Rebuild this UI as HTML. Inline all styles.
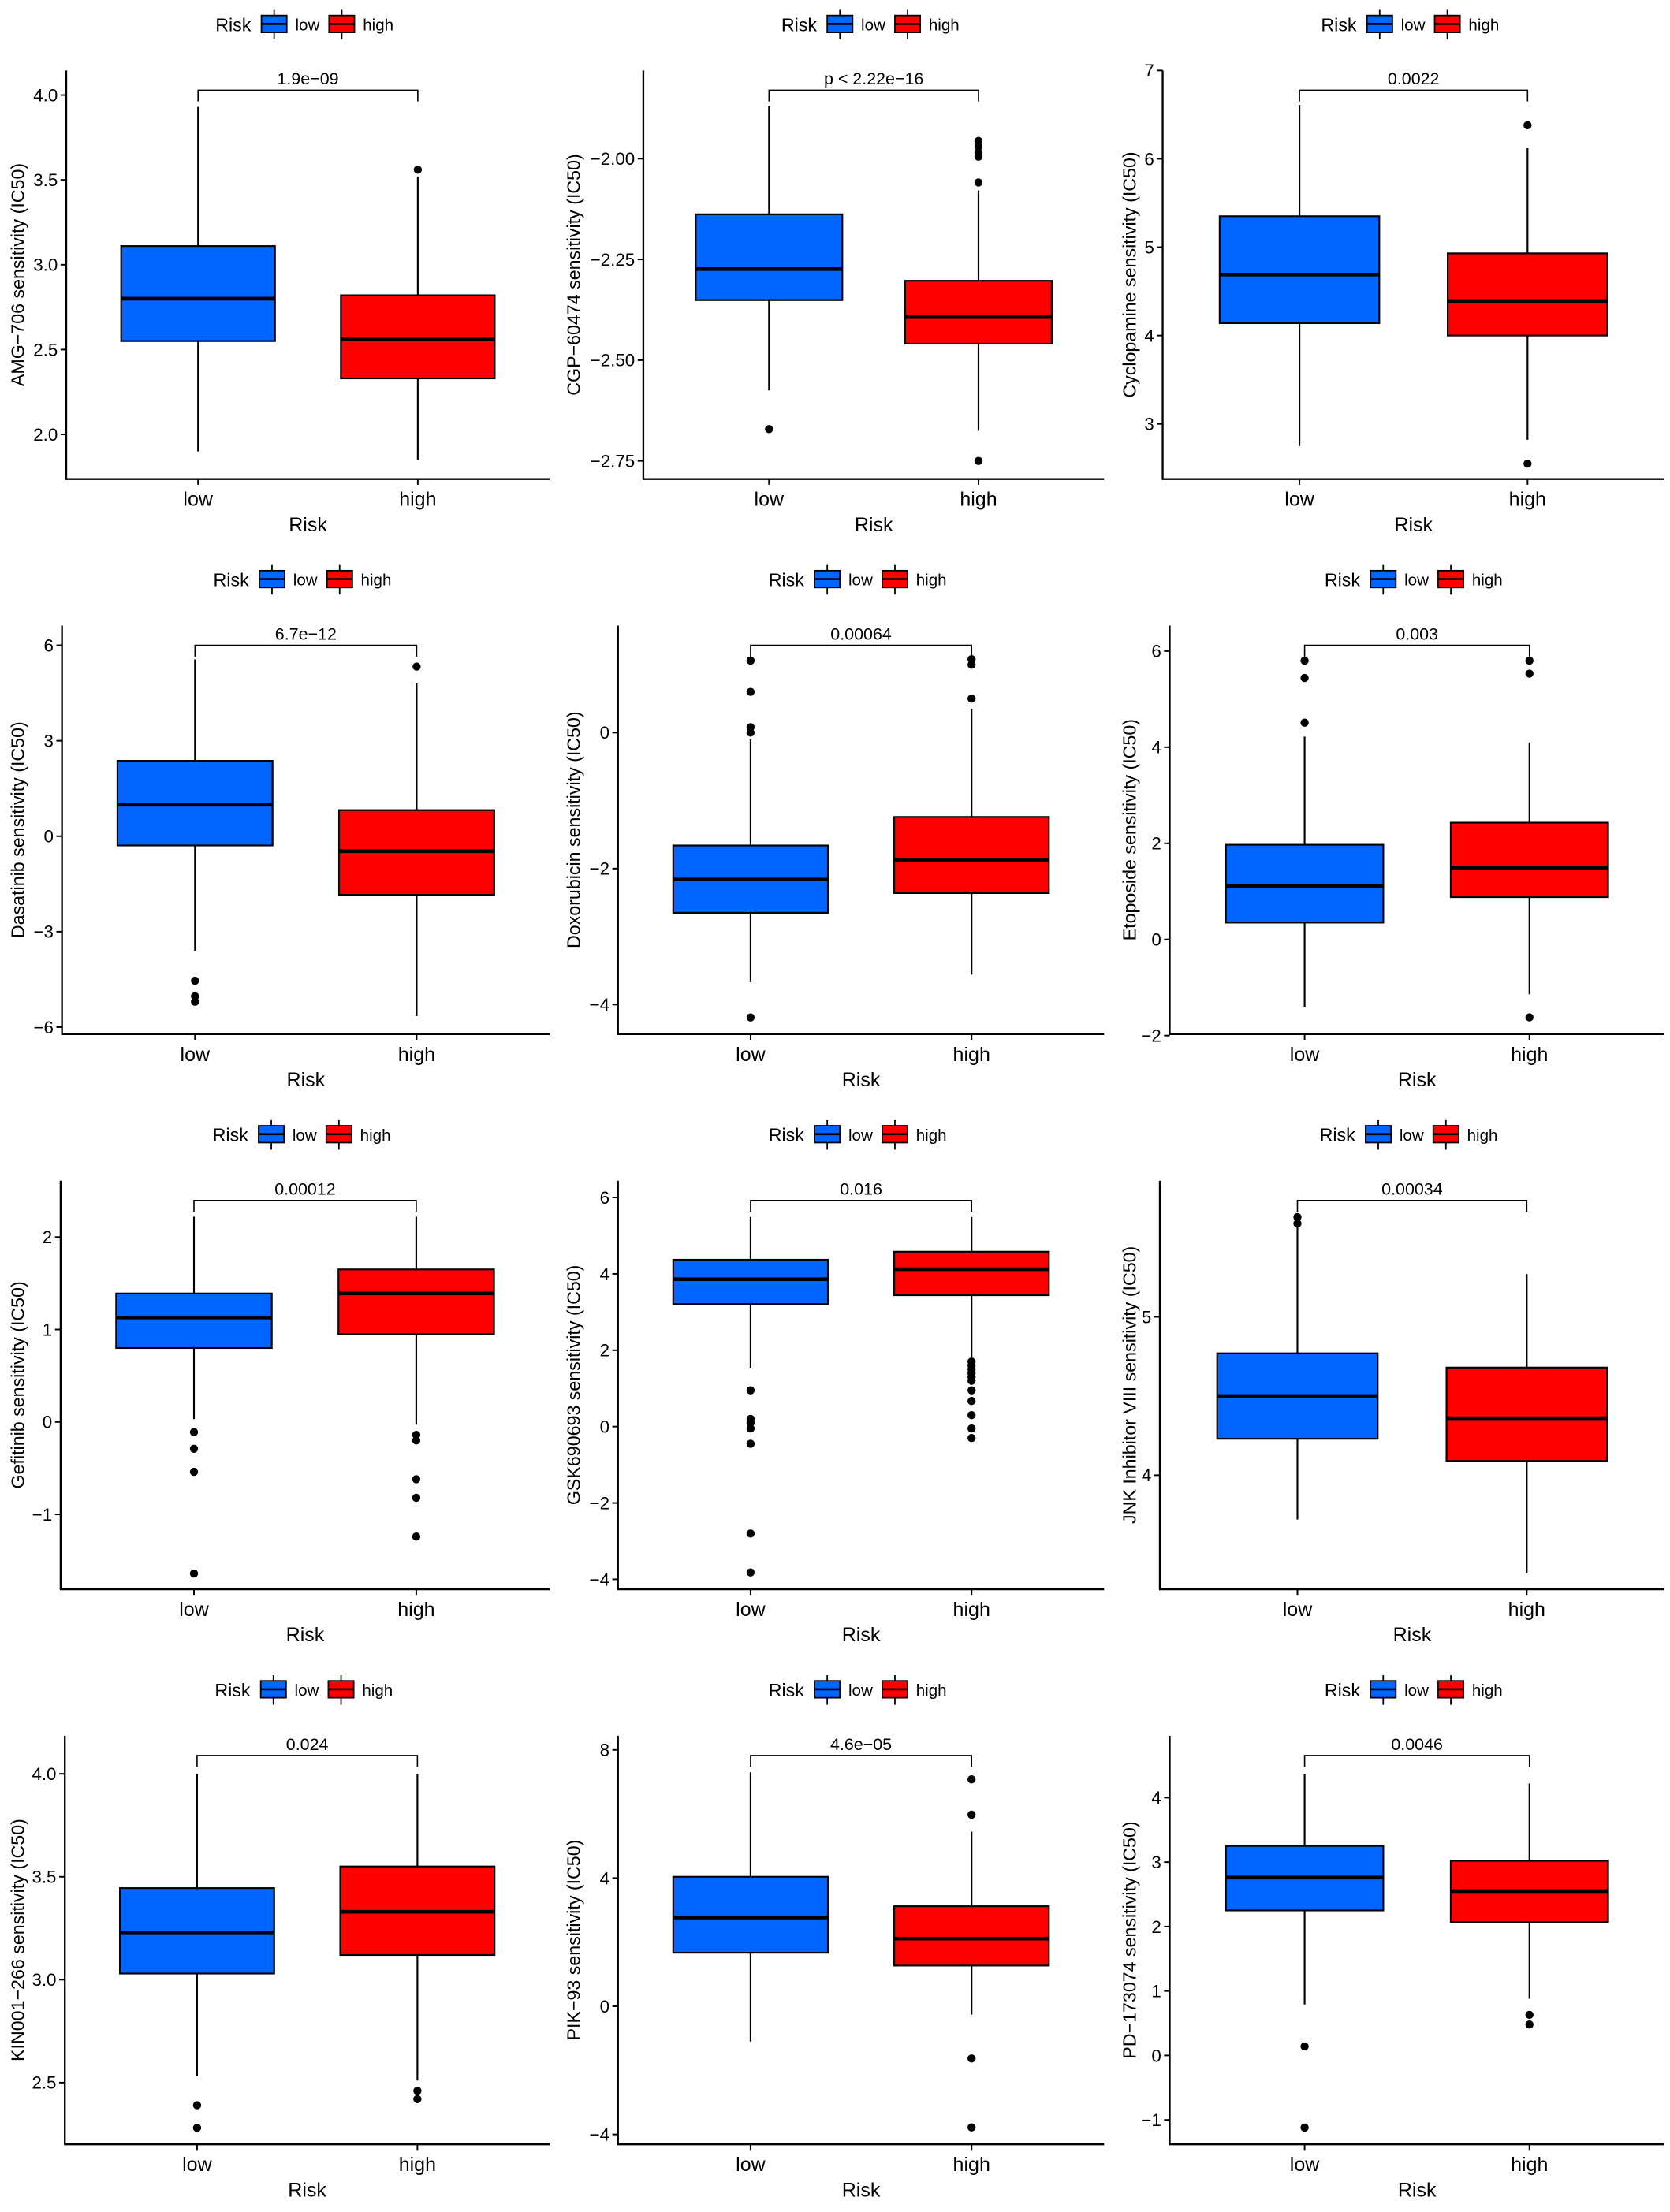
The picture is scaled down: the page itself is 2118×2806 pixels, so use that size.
<!DOCTYPE html>
<html><head><meta charset="utf-8"><style>html,body{margin:0;padding:0;background:#fff}svg{display:block}text{font-family:"Liberation Sans",Arial,sans-serif}</style></head>
<body>
<svg id="chart" xmlns="http://www.w3.org/2000/svg" width="2118" height="2806" viewBox="0 0 1185 1570" preserveAspectRatio="none"></svg>
<script>
const drugs=["AMG\u2212706","CGP\u221260474","Cyclopamine","Dasatinib","Doxorubicin","Etoposide","Gefitinib","GSK690693","JNK Inhibitor VIII","KIN001\u2212266","PIK\u221293","PD\u2212173074"];
const pvals=["1.9e\u221209","p < 2.22e\u221216","0.0022","6.7e\u221212","0.00064","0.003","0.00012","0.016","0.00034","0.024","4.6e\u221205","0.0046"];
const yTicks=[[2.0,2.5,3.0,3.5,4.0],[-2.75,-2.50,-2.25,-2.00],[3,4,5,6,7],[-6,-3,0,3,6],[-4,-2,0],[-2,0,2,4,6],[-1,0,1,2],[-4,-2,0,2,4,6],[4,5],[2.5,3.0,3.5,4.0],[-4,0,4,8],[-1,0,1,2,3,4]];
const tickDecimals=[1,2,0,0,0,0,0,0,0,1,0,0];
const yDomains=[[1.737,4.145],[-2.795,-1.781],[2.376,7.0],[-6.22,6.62],[-4.435,1.575],[-1.97,6.53],[-1.81,2.61],[-4.26,6.44],[3.28,5.86],[2.2,4.185],[-4.31,8.44],[-1.38,4.96]];
// [whiskerLow, q1, median, q3, whiskerHigh]
const lowStats=[[1.90,2.55,2.80,3.11,3.93],[-2.575,-2.351,-2.274,-2.138,-1.869],[2.75,4.14,4.69,5.35,6.61],[-3.61,-0.29,0.99,2.37,5.56],[-3.67,-2.65,-2.16,-1.66,-0.1],[-1.4,0.35,1.11,1.97,4.22],[0.03,0.8,1.13,1.39,2.22],[1.54,3.21,3.86,4.37,5.49],[3.72,4.23,4.5,4.77,5.57],[2.53,3.03,3.23,3.445,4.0],[-1.1,1.67,2.77,4.04,7.3],[0.79,2.25,2.76,3.25,4.37]];
const highStats=[[1.85,2.33,2.56,2.82,3.52],[-2.675,-2.459,-2.393,-2.303,-2.079],[2.82,4.0,4.39,4.93,6.12],[-5.65,-1.84,-0.47,0.82,4.8],[-3.56,-2.36,-1.87,-1.24,0.35],[-1.14,0.88,1.49,2.43,4.1],[-0.03,0.95,1.39,1.65,2.22],[1.77,3.44,4.12,4.58,5.49],[3.38,4.09,4.36,4.68,5.27],[2.51,3.12,3.33,3.55,4.0],[-0.26,1.27,2.11,3.12,5.45],[0.88,2.07,2.55,3.02,4.22]];
const lowOutliers=[[],[-2.671],[],[-4.54,-5.03,-5.2],[0.0,0.08,0.6,1.06,-4.19],[4.51,5.44,5.8],[-0.11,-0.29,-0.54,-1.64],[0.95,0.2,0.1,-0.05,-0.45,-2.8,-3.82],[5.63,5.59],[2.39,2.28],[],[0.14,-1.12]];
const highOutliers=[[3.56],[-1.956,-1.97,-1.985,-1.995,-2.059,-2.75],[6.38,2.55],[5.33],[1.08,1.0,0.5],[5.8,5.53,-1.62],[-0.14,-0.2,-0.62,-0.82,-1.24],[1.7,1.6,1.5,1.4,1.3,1.2,0.95,0.67,0.3,-0.05,-0.3],[],[2.46,2.42],[7.08,5.98,-1.63,-3.78],[0.63,0.48]];
const axisLeft=[47,62,36,44,44,41,43,44,34,46,44,41];
const axisRight=[390,389,392];
const BLUE="#0066FF",RED="#FF0000";
const NS="http://www.w3.org/2000/svg";
const svg=document.getElementById("chart");
function mk(tag,attrs,parent){const e=document.createElementNS(NS,tag);for(const k in attrs)e.setAttribute(k,attrs[k]);parent.appendChild(e);return e;}
function fmt(v,d){return v.toFixed(d).replace("-","\u2212");}
for(let i=0;i<drugs.length;i++){
  const row=Math.floor(i/3),col=i%3;
  const g=mk("g",{transform:`translate(${col*394.5},${row*394})`},svg);
  
  
  const L=axisLeft[i],R=axisRight[col],W=R-L,TOP=50,BOT=340;
  const d=yDomains[i];
  const y=v=>BOT-(v-d[0])/(d[1]-d[0])*(BOT-TOP);
  const xPos=k=>L+(0.6+k)/2.2*W;
  const hw=0.35/2.2*W;
  const cx=(L+R)/2;
  const lg=mk("g",{},g);
  
  
  const lt=mk("text",{x:cx-53,y:22,"font-size":13,"text-anchor":"middle",fill:"#000"},lg);lt.textContent="Risk";
  [[BLUE,"low",-33],[RED,"high",15]].forEach(([c,lab,off])=>{
    const kx=cx+off;
    mk("line",{x1:kx+9,x2:kx+9,y1:7,y2:28,stroke:"#000","stroke-width":1},lg);
    const r=mk("rect",{x:kx,y:11,width:18,height:12,fill:c,stroke:"#000","stroke-width":1},lg);
    
    
    mk("line",{x1:kx,x2:kx+18,y1:17,y2:17,stroke:"#000","stroke-width":1.5},lg);
    const t=mk("text",{x:kx+24,y:21.5,"font-size":11.5,fill:"#000"},lg);t.textContent=lab;
    
    
  });
  const ya=mk("line",{x1:L,x2:L,y1:TOP,y2:BOT,stroke:"#000","stroke-width":1.3},g);
  
  
  const xa=mk("line",{x1:L-0.6,x2:R,y1:BOT,y2:BOT,stroke:"#000","stroke-width":1.3},g);
  
  
  yTicks[i].forEach(v=>{
    const yy=y(v);
    mk("line",{x1:L-4,x2:L,y1:yy,y2:yy,stroke:"#000","stroke-width":1.1},g);
    const t=mk("text",{x:L-6,y:yy+4.4,"font-size":12.5,"text-anchor":"end",fill:"#000"},g);
    t.textContent=fmt(v,tickDecimals[i]);
    
    
  });
  const yt=mk("text",{transform:`translate(17,${(TOP+BOT)/2}) rotate(-90)`,"font-size":13,"text-anchor":"middle",fill:"#000"},g);
  yt.textContent=drugs[i]+" sensitivity (IC50)";
  
  
  ["low","high"].forEach((lab,k)=>{
    const xx=xPos(k);
    mk("line",{x1:xx,x2:xx,y1:BOT,y2:BOT+4,stroke:"#000","stroke-width":1.1},g);
    const t=mk("text",{x:xx,y:359,"font-size":14,"text-anchor":"middle",fill:"#000"},g);t.textContent=lab;
    
    
  });
  const xt=mk("text",{x:cx,y:377,"font-size":14,"text-anchor":"middle",fill:"#000"},g);xt.textContent="Risk";
  
  
  [[lowStats[i],lowOutliers[i],BLUE,"low"],[highStats[i],highOutliers[i],RED,"high"]].forEach(([s,o,c,lab],k)=>{
    const xx=xPos(k);
    const bg=mk("g",{},g);
    
    
    mk("line",{x1:xx,x2:xx,y1:y(s[0]),y2:y(s[1]),stroke:"#000","stroke-width":1.2},bg);
    mk("line",{x1:xx,x2:xx,y1:y(s[3]),y2:y(s[4]),stroke:"#000","stroke-width":1.2},bg);
    mk("rect",{x:xx-hw,y:y(s[3]),width:2*hw,height:y(s[1])-y(s[3]),fill:c,stroke:"#000","stroke-width":1.2},bg);
    mk("line",{x1:xx-hw,x2:xx+hw,y1:y(s[2]),y2:y(s[2]),stroke:"#000","stroke-width":2.6},bg);
    o.forEach(v=>{
      const p=mk("circle",{cx:xx,cy:y(v),r:2.9,fill:"#000"},bg);
      
      
    });
  });
  const x0=xPos(0),x1=xPos(1);
  const br=mk("path",{d:`M${x0},72 V64 H${x1} V72`,fill:"none",stroke:"#000","stroke-width":0.9},g);
  
  
  const pt=mk("text",{x:(x0+x1)/2,y:60,"font-size":12,"text-anchor":"middle",fill:"#000"},g);
  pt.textContent=pvals[i];
  
  
}
</script>
</body></html>
